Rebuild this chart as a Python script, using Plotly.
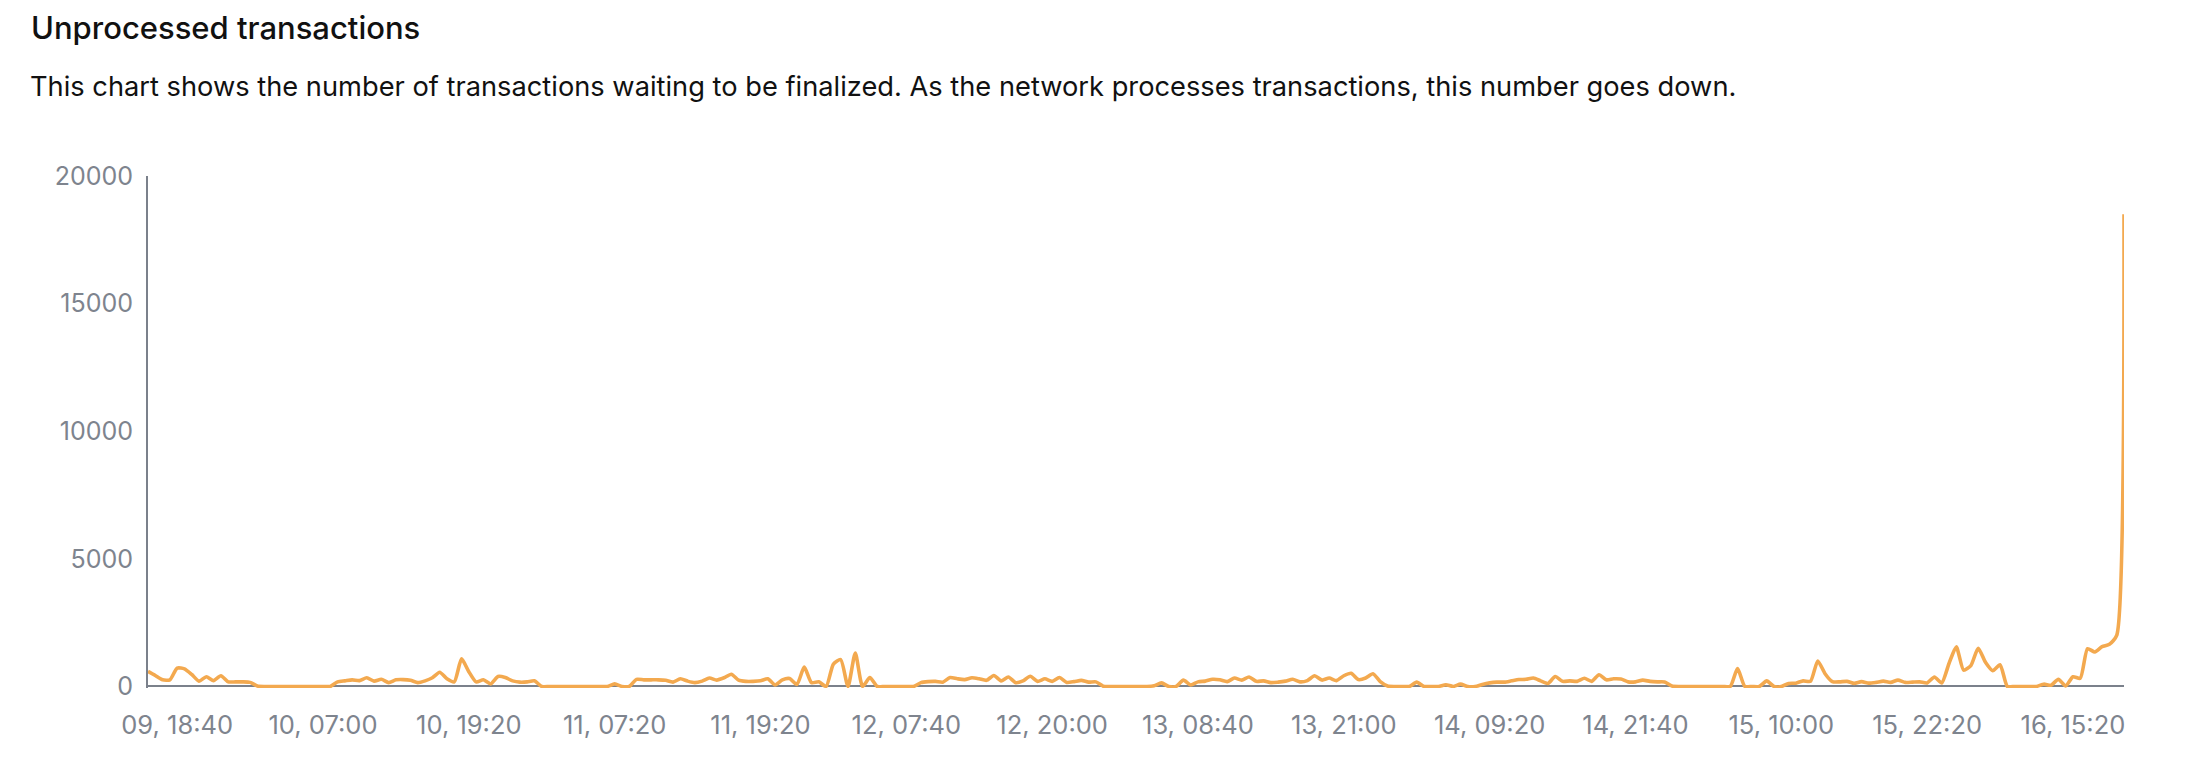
import plotly.graph_objects as go

title_text = "Unprocessed transactions"
subtitle_text = ("This chart shows the number of transactions waiting to be finalized. "
                 "As the network processes transactions, this number goes down.")

# x tick labels and the sample index each belongs to
tick_labels = ["09, 18:40", "10, 07:00", "10, 19:20", "11, 07:20", "11, 19:20",
               "12, 07:40", "12, 20:00", "13, 08:40", "13, 21:00", "14, 09:20",
               "14, 21:40", "15, 10:00", "15, 22:20", "16, 15:20"]
tick_sample_index = [4, 24, 44, 64, 84, 104, 124, 144, 164, 184, 204, 224, 244, 264]

y_ticks = [0, 5000, 10000, 15000, 20000]
y_tick_labels = ["0", "5000", "10000", "15000", "20000"]

unprocessed = [
    590, 430, 260, 260, 720, 690, 470, 210, 380, 230,
    420, 180, 180, 180, 160, 20, 0, 0, 0, 0,
    0, 0, 0, 0, 0, 0, 180, 220, 260, 230,
    340, 210, 280, 150, 260, 270, 240, 150, 220, 340,
    560, 300, 180, 1080, 580, 180, 260, 100, 390, 350,
    220, 170, 180, 220, 0, 0, 0, 0, 0, 0,
    0, 0, 0, 0, 100, 0, 0, 280, 260, 260,
    260, 240, 170, 300, 210, 150, 210, 330, 250, 340,
    480, 250, 200, 200, 220, 300, 60, 260, 310, 80,
    760, 150, 180, 0, 880, 1050, 0, 1310, 0, 350,
    0, 0, 0, 0, 0, 0, 150, 190, 200, 170,
    350, 300, 270, 340, 300, 240, 430, 220, 370, 150,
    220, 400, 200, 300, 200, 350, 160, 190, 240, 170,
    180, 10, 0, 0, 0, 0, 0, 0, 30, 140,
    0, 0, 250, 60, 180, 210, 280, 260, 190, 330,
    250, 370, 200, 220, 150, 170, 210, 280, 180, 230,
    420, 250, 330, 230, 420, 520, 270, 330, 500, 190,
    20, 0, 0, 0, 170, 0, 0, 0, 70, 0,
    90, 0, 0, 80, 140, 170, 170, 220, 270, 280,
    330, 220, 120, 390, 200, 220, 200, 320, 200, 460,
    260, 300, 290, 180, 180, 250, 200, 180, 175, 20,
    0, 0, 0, 0, 0, 0, 0, 0, 700, 0,
    0, 0, 220, 0, 0, 120, 130, 220, 200, 1000,
    500, 190, 180, 200, 120, 190, 130, 160, 210, 160,
    250, 160, 170, 180, 140, 370, 140, 900, 1550, 640,
    820, 1500, 950, 620, 850, 0, 0, 0, 0, 0,
    90, 50, 280, 20, 380, 320, 1480, 1350, 1560, 1650,
    2000, 18500,
]

sample_index = list(range(len(unprocessed)))

LINE = "#F3A94F"
AXIS = "#7B818B"
TICK = "#7E848E"
FONT = "Inter"

fig = go.Figure()
fig.add_trace(go.Scatter(
    x=sample_index, y=unprocessed, mode="lines",
    line=dict(color=LINE, width=3.6, shape="spline", smoothing=0.6),
    hoverinfo="skip", showlegend=False,
))

W, H = 2182, 762
fig.update_layout(
    width=W, height=H,
    margin=dict(l=140, r=66, t=168, b=82, pad=0),
    paper_bgcolor="white", plot_bgcolor="white",
    font=dict(family=FONT, color=TICK, size=25),
    title=dict(text=title_text, x=23 / W, xref="container", xanchor="left",
               y=1 - 20 / H, yref="container", yanchor="middle",
               font=dict(family=FONT, size=31, color="#111111", weight=500)),
    annotations=[dict(text=subtitle_text, xref="paper", yref="paper",
                      x=(20 - 140) / 1976, y=(679.5 - 79) / 511.5,
                      xanchor="left", yanchor="middle", showarrow=False,
                      font=dict(family=FONT, size=27.25, color="#111111"))],
)
fig.update_xaxes(
    range=[0, len(unprocessed) - 1], showgrid=False, zeroline=False,
    showline=False, tickmode="array", tickvals=tick_sample_index,
    ticktext=tick_labels, ticks="", ticklabelstandoff=19,
    tickfont=dict(family=FONT, size=25.5, color=TICK),
)
fig.update_yaxes(
    range=[-60, 20000], showgrid=False, zeroline=True, zerolinecolor=AXIS,
    zerolinewidth=2, showline=True, linecolor=AXIS, linewidth=2,
    tickmode="array", tickvals=y_ticks, ticktext=y_tick_labels, ticks="",
    ticklabelstandoff=8,
    tickfont=dict(family=FONT, size=25, color=TICK),
)

fig.write_html("out.html")
